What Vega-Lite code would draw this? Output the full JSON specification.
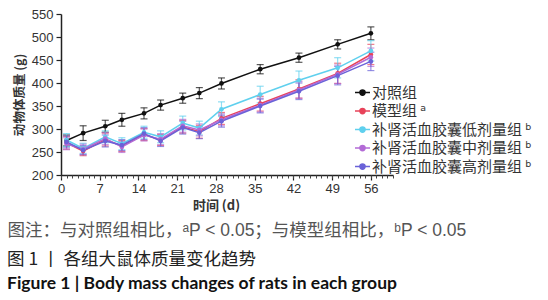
{
  "$schema": "https://vega.github.io/schema/vega-lite/v6.json",
  "width": 332,
  "height": 161,
  "autosize": "none",
  "padding": {"left": 61, "top": 14, "right": 155, "bottom": 125},
  "background": "white",
  "config": {"view": {"stroke": null}, "font": "Noto Sans CJK SC"},
  "title": {
    "text": "图 1 丨 各组大鼠体质量变化趋势",
    "subtitle": "Figure 1  |  Body mass changes of rats in each group",
    "orient": "bottom",
    "anchor": "start",
    "frame": "group",
    "dx": -54,
    "offset": 12,
    "font": "Noto Sans CJK SC",
    "fontSize": 17.5,
    "fontWeight": "normal",
    "color": "#222222",
    "subtitleFont": "Lato",
    "subtitleFontSize": 17.5,
    "subtitleFontWeight": "bold",
    "subtitleColor": "#111111",
    "subtitlePadding": 7
  },
  "data": {
    "values": [
      {"g": "对照组", "d": 1, "m": 275, "sd": 12},
      {"g": "对照组", "d": 4, "m": 291, "sd": 16},
      {"g": "对照组", "d": 8, "m": 306, "sd": 13},
      {"g": "对照组", "d": 11, "m": 320, "sd": 14},
      {"g": "对照组", "d": 15, "m": 334, "sd": 12},
      {"g": "对照组", "d": 18, "m": 352, "sd": 11},
      {"g": "对照组", "d": 22, "m": 367, "sd": 11},
      {"g": "对照组", "d": 25, "m": 378, "sd": 12},
      {"g": "对照组", "d": 29, "m": 399, "sd": 12},
      {"g": "对照组", "d": 36, "m": 430, "sd": 10},
      {"g": "对照组", "d": 43, "m": 455, "sd": 10},
      {"g": "对照组", "d": 50, "m": 484, "sd": 10},
      {"g": "对照组", "d": 56, "m": 508, "sd": 14},
      {"g": "模型组 ᵃ", "d": 1, "m": 270, "sd": 14},
      {"g": "模型组 ᵃ", "d": 4, "m": 252, "sd": 10},
      {"g": "模型组 ᵃ", "d": 8, "m": 277, "sd": 14},
      {"g": "模型组 ᵃ", "d": 11, "m": 263, "sd": 12},
      {"g": "模型组 ᵃ", "d": 15, "m": 288, "sd": 13},
      {"g": "模型组 ᵃ", "d": 18, "m": 276, "sd": 12},
      {"g": "模型组 ᵃ", "d": 22, "m": 305, "sd": 14},
      {"g": "模型组 ᵃ", "d": 25, "m": 294, "sd": 14},
      {"g": "模型组 ᵃ", "d": 29, "m": 323, "sd": 13},
      {"g": "模型组 ᵃ", "d": 36, "m": 355, "sd": 16},
      {"g": "模型组 ᵃ", "d": 43, "m": 387, "sd": 20},
      {"g": "模型组 ᵃ", "d": 50, "m": 421, "sd": 22},
      {"g": "模型组 ᵃ", "d": 56, "m": 462, "sd": 22},
      {"g": "补肾活血胶囊低剂量组 ᵇ", "d": 1, "m": 276, "sd": 14},
      {"g": "补肾活血胶囊低剂量组 ᵇ", "d": 4, "m": 258, "sd": 11},
      {"g": "补肾活血胶囊低剂量组 ᵇ", "d": 8, "m": 283, "sd": 13},
      {"g": "补肾活血胶囊低剂量组 ᵇ", "d": 11, "m": 268, "sd": 13},
      {"g": "补肾活血胶囊低剂量组 ᵇ", "d": 15, "m": 293, "sd": 13},
      {"g": "补肾活血胶囊低剂量组 ᵇ", "d": 18, "m": 283, "sd": 13},
      {"g": "补肾活血胶囊低剂量组 ᵇ", "d": 22, "m": 313, "sd": 15},
      {"g": "补肾活血胶囊低剂量组 ᵇ", "d": 25, "m": 302, "sd": 15},
      {"g": "补肾活血胶囊低剂量组 ᵇ", "d": 29, "m": 343, "sd": 16},
      {"g": "补肾活血胶囊低剂量组 ᵇ", "d": 36, "m": 375, "sd": 18},
      {"g": "补肾活血胶囊低剂量组 ᵇ", "d": 43, "m": 406, "sd": 20},
      {"g": "补肾活血胶囊低剂量组 ᵇ", "d": 50, "m": 433, "sd": 22},
      {"g": "补肾活血胶囊低剂量组 ᵇ", "d": 56, "m": 470, "sd": 22},
      {"g": "补肾活血胶囊中剂量组 ᵇ", "d": 1, "m": 268, "sd": 13},
      {"g": "补肾活血胶囊中剂量组 ᵇ", "d": 4, "m": 256, "sd": 11},
      {"g": "补肾活血胶囊中剂量组 ᵇ", "d": 8, "m": 279, "sd": 13},
      {"g": "补肾活血胶囊中剂量组 ᵇ", "d": 11, "m": 261, "sd": 12},
      {"g": "补肾活血胶囊中剂量组 ᵇ", "d": 15, "m": 287, "sd": 13},
      {"g": "补肾活血胶囊中剂量组 ᵇ", "d": 18, "m": 278, "sd": 12},
      {"g": "补肾活血胶囊中剂量组 ᵇ", "d": 22, "m": 307, "sd": 14},
      {"g": "补肾活血胶囊中剂量组 ᵇ", "d": 25, "m": 298, "sd": 13},
      {"g": "补肾活血胶囊中剂量组 ᵇ", "d": 29, "m": 320, "sd": 13},
      {"g": "补肾活血胶囊中剂量组 ᵇ", "d": 36, "m": 352, "sd": 15},
      {"g": "补肾活血胶囊中剂量组 ᵇ", "d": 43, "m": 385, "sd": 18},
      {"g": "补肾活血胶囊中剂量组 ᵇ", "d": 50, "m": 419, "sd": 20},
      {"g": "补肾活血胶囊中剂量组 ᵇ", "d": 56, "m": 456, "sd": 20},
      {"g": "补肾活血胶囊高剂量组 ᵇ", "d": 1, "m": 272, "sd": 13},
      {"g": "补肾活血胶囊高剂量组 ᵇ", "d": 4, "m": 254, "sd": 10},
      {"g": "补肾活血胶囊高剂量组 ᵇ", "d": 8, "m": 274, "sd": 13},
      {"g": "补肾活血胶囊高剂量组 ᵇ", "d": 11, "m": 265, "sd": 12},
      {"g": "补肾活血胶囊高剂量组 ᵇ", "d": 15, "m": 290, "sd": 13},
      {"g": "补肾活血胶囊高剂量组 ᵇ", "d": 18, "m": 274, "sd": 12},
      {"g": "补肾活血胶囊高剂量组 ᵇ", "d": 22, "m": 303, "sd": 14},
      {"g": "补肾活血胶囊高剂量组 ᵇ", "d": 25, "m": 292, "sd": 13},
      {"g": "补肾活血胶囊高剂量组 ᵇ", "d": 29, "m": 317, "sd": 13},
      {"g": "补肾活血胶囊高剂量组 ᵇ", "d": 36, "m": 350, "sd": 15},
      {"g": "补肾活血胶囊高剂量组 ᵇ", "d": 43, "m": 382, "sd": 18},
      {"g": "补肾活血胶囊高剂量组 ᵇ", "d": 50, "m": 416, "sd": 20},
      {"g": "补肾活血胶囊高剂量组 ᵇ", "d": 56, "m": 447, "sd": 20}
    ]
  },
  "layer": [
    {
      "mark": {"type": "errorbar", "ticks": {"size": 7}, "thickness": 1.2, "opacity": 0.7},
      "encoding": {
        "x": {
          "field": "d", "type": "quantitative",
          "scale": {"domain": [0, 60], "nice": false, "zero": false},
          "axis": {
            "orient": "bottom",
            "values": [0, 7, 14, 21, 28, 35, 42, 49, 56],
            "title": "时间 (d)",
            "titleFont": "Noto Sans CJK SC", "titleFontSize": 13, "titleFontWeight": "bold", "titleColor": "#333333",
            "titleX": 155, "titleY": 30, "titleAlign": "center", "titleBaseline": "middle",
            "labelFont": "Liberation Sans", "labelFontSize": 13, "labelColor": "#333333", "labelPadding": 2,
            "labelFlush": false, "labelOverlap": false,
            "tickSize": 5, "tickColor": "#222222", "tickWidth": 1.2,
            "domainColor": "#222222", "domainWidth": 1.5, "grid": false
          }
        },
        "y": {
          "field": "m", "type": "quantitative",
          "scale": {"domain": [200, 550], "nice": false, "zero": false},
          "axis": {
            "values": [200, 250, 300, 350, 400, 450, 500, 550],
            "title": "动物体质量 (g)",
            "titleFont": "Noto Sans CJK SC", "titleFontSize": 12.5, "titleFontWeight": "bold", "titleColor": "#333333",
            "titlePadding": 5,
            "labelFont": "Liberation Sans", "labelFontSize": 13, "labelColor": "#333333", "labelPadding": 3,
            "labelOverlap": false, "labelFlush": false,
            "tickSize": 5, "tickColor": "#222222", "tickWidth": 1.2,
            "domainColor": "#222222", "domainWidth": 1.5, "grid": false
          }
        },
        "yError": {"field": "sd"},
        "color": {
          "field": "g", "type": "nominal",
          "scale": {
            "domain": ["对照组", "模型组 ᵃ", "补肾活血胶囊低剂量组 ᵇ", "补肾活血胶囊中剂量组 ᵇ", "补肾活血胶囊高剂量组 ᵇ"],
            "range": ["#111111", "#e8435a", "#5fd0ee", "#b36bd6", "#6a62d8"]
          }
        }
      }
    },
    {
      "mark": {"type": "line", "strokeWidth": 1.5},
      "encoding": {
        "x": {"field": "d", "type": "quantitative", "axis": null},
        "y": {
          "field": "m", "type": "quantitative",
          "axis": {
            "values": [200, 250, 300, 350, 400, 450, 500, 550],
            "title": "动物体质量 (g)",
            "titleFont": "Noto Sans CJK SC", "titleFontSize": 12.5, "titleFontWeight": "bold", "titleColor": "#333333",
            "titlePadding": 5,
            "labelFont": "Liberation Sans", "labelFontSize": 13, "labelColor": "#333333", "labelPadding": 3,
            "labelOverlap": false, "labelFlush": false,
            "tickSize": 5, "tickColor": "#222222", "tickWidth": 1.2,
            "domainColor": "#222222", "domainWidth": 1.5, "grid": false
          }
        },
        "color": {
          "field": "g", "type": "nominal",
          "legend": {
            "orient": "none", "legendX": 293, "legendY": 70, "title": null,
            "symbolType": "M-1,0L1,0M0.35,0A0.35,0.35,0,1,1,-0.35,0A0.35,0.35,0,1,1,0.35,0Z",
            "symbolSize": 225, "symbolStrokeWidth": 1.5,
            "labelFont": "Noto Sans CJK SC, DejaVu Sans", "labelFontSize": 15, "labelColor": "#333333",
            "labelOffset": 1, "rowPadding": 1.5,
            "encode": {"symbols": {"update": {"fill": {"scale": "color", "field": "value"}, "stroke": {"scale": "color", "field": "value"}, "opacity": {"value": 1}}}}
          }
        }
      }
    },
    {
      "mark": {"type": "point", "filled": true, "size": 22, "opacity": 1},
      "encoding": {
        "x": {"field": "d", "type": "quantitative", "axis": null},
        "y": {
          "field": "m", "type": "quantitative",
          "axis": {
            "values": [200, 250, 300, 350, 400, 450, 500, 550],
            "title": "动物体质量 (g)",
            "titleFont": "Noto Sans CJK SC", "titleFontSize": 12.5, "titleFontWeight": "bold", "titleColor": "#333333",
            "titlePadding": 5,
            "labelFont": "Liberation Sans", "labelFontSize": 13, "labelColor": "#333333", "labelPadding": 3,
            "labelOverlap": false, "labelFlush": false,
            "tickSize": 5, "tickColor": "#222222", "tickWidth": 1.2,
            "domainColor": "#222222", "domainWidth": 1.5, "grid": false
          }
        },
        "color": {"field": "g", "type": "nominal"}
      }
    },
    {
      "mark": {"type": "point", "opacity": 0},
      "encoding": {
        "x": {
          "field": "d", "type": "quantitative",
          "axis": {
            "orient": "bottom",
            "values": [0,1,2,3,4,5,6,7,8,9,10,11,12,13,14,15,16,17,18,19,20,21,22,23,24,25,26,27,28,29,30,31,32,33,34,35,36,37,38,39,40,41,42,43,44,45,46,47,48,49,50,51,52,53,54,55,56,57,58,59,60],
            "labels": false, "domain": false, "grid": false,
            "tickSize": 3, "tickColor": "#444444", "tickWidth": 1,
            "title": "图注：与对照组相比，ᵃP < 0.05；与模型组相比，ᵇP < 0.05",
            "titleFont": "Liberation Sans, Noto Sans CJK SC, DejaVu Sans", "titleFontSize": 17.5, "titleFontWeight": "normal", "titleColor": "#555555",
            "titleX": -54, "titleY": 55, "titleAlign": "left", "titleAnchor": "start", "titleBaseline": "middle"
          }
        },
        "y": {
          "field": "m", "type": "quantitative",
          "axis": {
            "values": [200, 250, 300, 350, 400, 450, 500, 550],
            "title": "动物体质量 (g)",
            "titleFont": "Noto Sans CJK SC", "titleFontSize": 12.5, "titleFontWeight": "bold", "titleColor": "#333333",
            "titlePadding": 5,
            "labelFont": "Liberation Sans", "labelFontSize": 13, "labelColor": "#333333", "labelPadding": 3,
            "labelOverlap": false, "labelFlush": false,
            "tickSize": 5, "tickColor": "#222222", "tickWidth": 1.2,
            "domainColor": "#222222", "domainWidth": 1.5, "grid": false
          }
        }
      }
    }
  ],
  "resolve": {"axis": {"x": "independent"}}
}
